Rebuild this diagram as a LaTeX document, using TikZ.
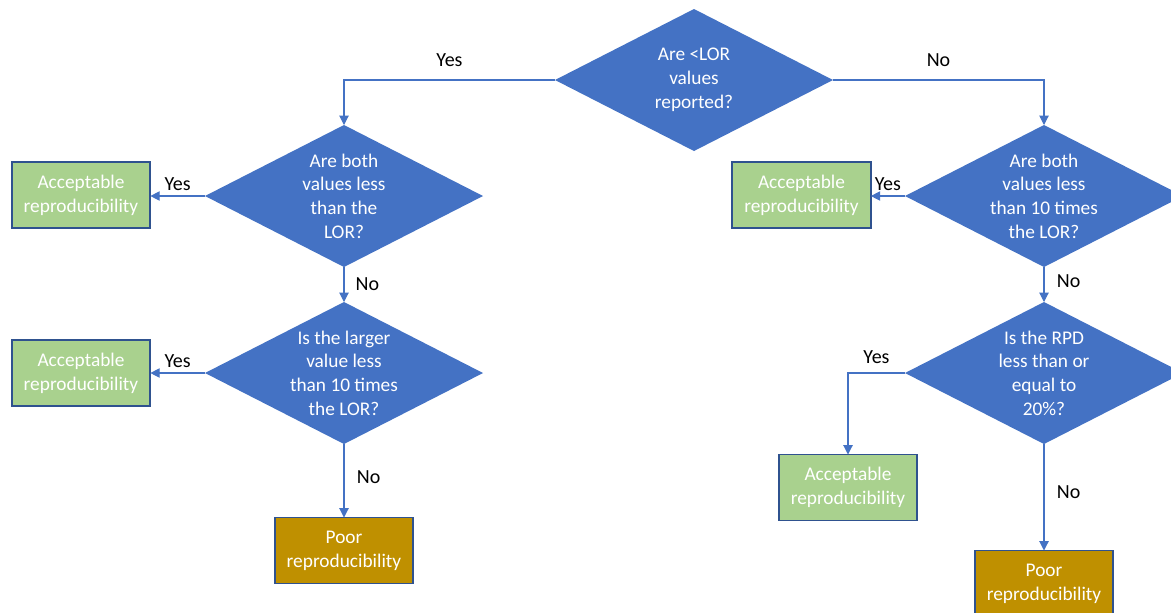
\documentclass[tikz,border=0pt]{standalone}
\usepackage{fontspec}
\setmainfont{Carlito}
\usetikzlibrary{shapes.geometric,arrows.meta}
\definecolor{dblue}{HTML}{4472C4}
\definecolor{bordblue}{HTML}{2F528F}
\definecolor{okgreen}{HTML}{A9D18E}
\definecolor{poorgold}{HTML}{BF9000}
\begin{document}
\begin{tikzpicture}[x=0.75pt,y=-0.75pt,
  dec/.style={diamond, fill=dblue, draw=none, minimum width=208.5pt, minimum height=106.5pt, inner sep=0pt, outer sep=0pt},
  dtext/.style={text=white, align=center, font=\fontsize{14.5}{17.8}\selectfont, inner sep=0pt},
  okbox/.style={draw=bordblue, line width=1.3pt, fill=okgreen, minimum width=104pt, minimum height=49.5pt, text=white, align=center, font=\fontsize{14.5}{17.8}\selectfont, inner sep=0pt, outer sep=0pt},
  poorbox/.style={okbox, fill=poorgold},
  conn/.style={draw=dblue, line width=0.8pt, -{Triangle[length=7pt,width=7pt]}},
  lab/.style={font=\fontsize{15}{17}\selectfont, text=black}]
\clip (0,0) rectangle (1171,612);
\fill[white] (0,0) rectangle (1171,612);

% decisions
\node[dec] (d0) at (694,80) {};
\node[dtext] (t0) at (d0) {Are <LOR\\values\\reported?};
\node[dec] (d1) at (344,196) {};
\node[dtext] (t1) at (d1) {Are both\\values less\\than the\\LOR?};
\node[dec] (d2) at (1044,196) {};
\node[dtext] (t2) at (d2) {Are both\\values less\\than 10 times\\the LOR?};
\node[dec] (d3) at (344,373) {};
\node[dtext] (t3) at (d3) {Is the larger\\value less\\than 10 times\\the LOR?};
\node[dec] (d4) at (1044,373) {};
\node[dtext] (t4) at (d4) {Is the RPD\\less than or\\equal to\\20\%?};

% outcomes
\node[okbox] (a1) at (81,195) {Acceptable\\reproducibility};
\node[okbox] (a2) at (81,373) {Acceptable\\reproducibility};
\node[okbox] (a3) at (801.5,195) {Acceptable\\reproducibility};
\node[okbox] (a4) at (848,487.5) {Acceptable\\reproducibility};
\node[poorbox] (p1) at (344,550.5) {Poor\\reproducibility};
\node[poorbox] (p2) at (1044,583.5) {Poor\\reproducibility};

% connectors
\draw[conn] (d0.west) -| node[lab, pos=0.25, above=6pt] (l0) {Yes} (d1.north);
\draw[conn] (d0.east) -| node[lab, pos=0.25, above=6pt] (l1) {No} (d2.north);
\draw[conn] (d1.west) -- node[lab, midway, above=0.5pt] (l2) {Yes} (a1.east |- d1.west);
\draw[conn] (d1.south) -- node[lab, midway, right=5pt] (l3) {No} (d3.north);
\draw[conn] (d3.west) -- node[lab, midway, above=0.5pt] (l4) {Yes} (a2.east |- d3.west);
\draw[conn] (d3.south) -- node[lab, pos=0.45, right=6pt] (l5) {No} (p1.north);
\draw[conn] (d2.west) -- node[lab, midway, above=0.5pt] (l6) {Yes} (a3.east |- d2.west);
\draw[conn] (d2.south) -- node[lab, pos=0.4, right=6pt] (l7) {No} (d4.north);
\draw[conn] (d4.west) -| node[lab, pos=0.25, above=3pt] (l8) {Yes} (a4.north);
\draw[conn] (d4.south) -- node[lab, pos=0.45, right=6pt] (l9) {No} (p2.north);
\end{tikzpicture}
\end{document}
